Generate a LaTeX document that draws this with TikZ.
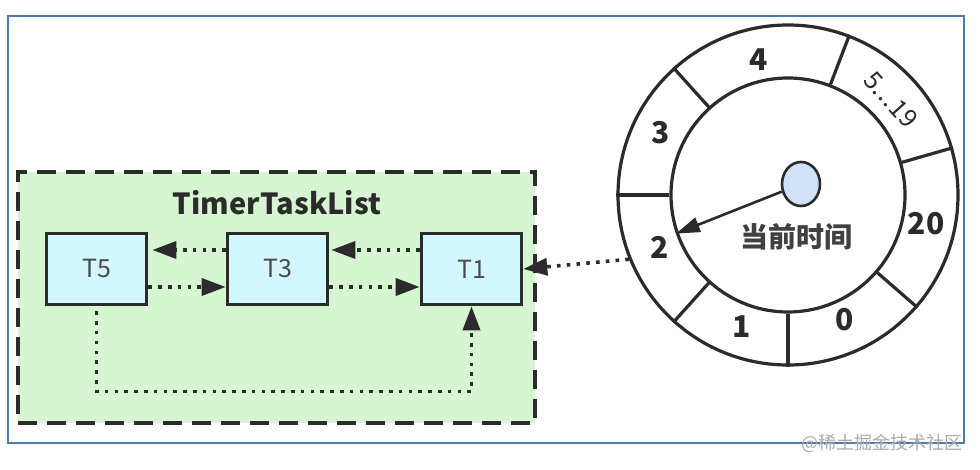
\documentclass[tikz,border=0pt]{standalone}
\usepackage{fontspec}
\setmainfont{Noto Sans CJK SC}
\usetikzlibrary{arrows.meta,calc,shapes.geometric}
\definecolor{framec}{HTML}{4A7DAF}
\definecolor{inkc}{HTML}{2B2B2B}
\definecolor{greenfill}{HTML}{D5F6D0}
\definecolor{boxfill}{HTML}{D2F7FF}
\definecolor{hubfill}{HTML}{CFE2F8}
\definecolor{markc}{HTML}{ABABAB}
\tikzset{
  listbox/.style={draw=inkc, line width=3.6pt, dash pattern=on 19pt off 10pt, fill=greenfill},
  taskbox/.style={draw=inkc, line width=3.6pt, fill=boxfill, minimum width=100pt, minimum height=71pt, inner sep=0pt,
    font=\fontsize{25pt}{27pt}\selectfont, text=inkc!85},
  dotline/.style={draw=inkc, line width=3.6pt, dash pattern=on 3.6pt off 6.2pt, -{Triangle[length=24pt,width=17pt]}},
  ring/.style={draw=inkc, line width=3.2pt, circle, inner sep=0pt},
  num/.style={font=\bfseries\fontsize{30pt}{32pt}\selectfont, text=inkc, inner sep=0pt},
}
\begin{document}
\begin{tikzpicture}[x=1pt,y=-1pt]
\path[use as bounding box, fill=white] (0,0) rectangle (980,470);
% outer frame
\draw[framec, line width=2.2pt] (8,16) rectangle (964,443);
% list container
\node[listbox, minimum width=517pt, minimum height=251pt] (list) at (276.5,297.5) {};
\node[font=\bfseries\fontsize{29pt}{31pt}\selectfont, text=inkc, inner sep=0pt] (title) at (277,203) {TimerTaskList};
% tasks
\node[taskbox] (T5) at (96.5,269) {T5};
\node[taskbox] (T3) at (277.5,269) {T3};
\node[taskbox] (T1) at (471.5,269) {T1};
% links
\draw[dotline, shorten >=4pt] ([yshift=19pt]T3.west) -- ([yshift=19pt]T5.east);
\draw[dotline, shorten >=2pt] ([yshift=19pt]T1.west) -- ([yshift=19pt]T3.east);
\draw[dotline] ([yshift=-18pt]T5.east) -- ([yshift=-18pt]T3.west);
\draw[dotline] ([yshift=-18pt]T3.east) -- ([yshift=-18pt]T1.west);
\draw[dotline, shorten <=5pt] (T5.south) -- ++(0,85) -| (T1.south);
% wheel
\coordinate (c) at (788,195);
\node[ring, minimum size=340pt] (outer) at (c) {};
\node[ring, minimum size=234pt] (inner) at (c) {};
\foreach \a in {69,16,-41,-90,-132,180,132}
  \draw[inkc, line width=3.2pt] (inner.\a) -- (outer.\a);
\node[num] (n4) at (759,60) {4};
\node[font=\fontsize{25pt}{27pt}\selectfont, text=inkc, inner sep=0pt, rotate=-48] (n519) at (891,100) {5.\kern1pt.\kern1pt.\kern1pt19};
\node[num] (n20) at (926,224) {20};
\node[num] (n0) at (845,320) {0};
\node[num] (n1) at (742,327) {1};
\node[num] (n2) at (660,247) {2};
\node[num] (n3) at (661,133) {3};
\node[draw=inkc, line width=2.6pt, fill=hubfill, ellipse, minimum width=38pt, minimum height=44pt, inner sep=0pt] (hub) at (801,184) {};
\draw[inkc, line width=2.6pt, -{Triangle[length=24pt,width=15pt]}] (hub) -- (inner.199);
\node[font=\bfseries\fontsize{28pt}{30pt}\selectfont, text=inkc!90, inner sep=0pt] (now) at (796,237) {当前时间};
% wheel to list
\draw[dotline] (outer.202) -- (T1.east);
% watermark
\node[font=\fontsize{18pt}{20pt}\selectfont, text=markc, inner sep=0pt, anchor=east] (mark) at (963,443) {@稀土掘金技术社区};
\end{tikzpicture}
\end{document}
